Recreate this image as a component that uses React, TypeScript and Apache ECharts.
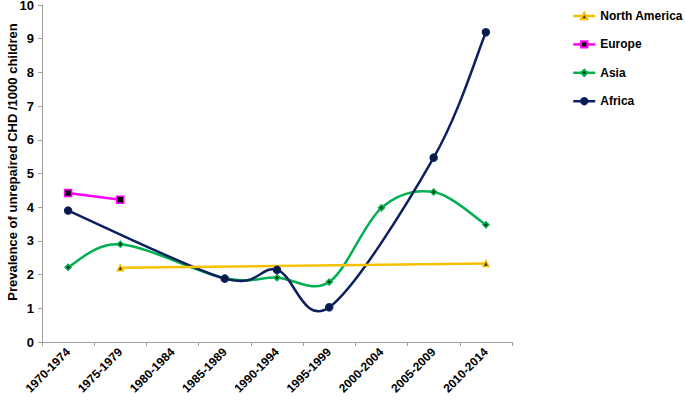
import React, { useEffect, useRef } from "react";
import * as echarts from "echarts";

const categories = ["1970-1974", "1975-1979", "1980-1984", "1985-1989", "1990-1994", "1995-1999", "2000-2004", "2005-2009", "2010-2014"];
const northAmerica = [null, 2.2, null, null, null, null, null, null, 2.33];
const europe = [4.42, 4.22, null, null, null, null, null, null, null];
const asia = [2.22, 2.9, null, 1.89, 1.91, 1.78, 3.98, 4.45, 3.48];
const africa = [3.9, null, null, 1.88, 2.14, 1.03, null, 5.47, 9.19];
const yTicks = [0, 10, 1];

const FONT = "Liberation Sans, Arial, sans-serif";

// Excel-style smoothed path through the points, using the axis scales (api.coord)
function smoothCurve(values: (number | null)[], color: string) {
  return (params: any, api: any) => {
    if (params.dataIndex !== 0) return null;
    const pts: number[][] = [];
    values.forEach((v, i) => {
      if (v !== null && v !== undefined) pts.push(api.coord([i, v]));
    });
    if (pts.length < 2) return null;
    let d = `M${pts[0][0]},${pts[0][1]}`;
    for (let i = 0; i < pts.length - 1; i++) {
      const p0 = pts[i - 1] || pts[i];
      const p1 = pts[i];
      const p2 = pts[i + 1];
      const p3 = pts[i + 2] || pts[i + 1];
      const c1x = p1[0] + (p2[0] - p0[0]) / 6;
      const c1y = p1[1] + (p2[1] - p0[1]) / 6;
      const c2x = p2[0] - (p3[0] - p1[0]) / 6;
      const c2y = p2[1] - (p3[1] - p1[1]) / 6;
      d += ` C${c1x},${c1y} ${c2x},${c2y} ${p2[0]},${p2[1]}`;
    }
    return {
      type: "path",
      shape: { pathData: d },
      style: { stroke: color, fill: "none", lineWidth: 2.5 },
      silent: true,
    };
  };
}

export default function App() {
  const ref = useRef<HTMLDivElement>(null);
  useEffect(() => {
    const chart = echarts.init(ref.current!, null, { renderer: "svg" });
    const mk = (name: string, data: any[], color: string, symbol: string, size: number, fill: string, hideLine: boolean, z: number) => ({
      name,
      type: "line",
      data,
      connectNulls: true,
      smooth: false,
      symbol,
      symbolSize: size,
      showSymbol: true,
      z,
      lineStyle: { color, width: 2.5, opacity: hideLine ? 0 : 1 },
      itemStyle: { color: fill, borderColor: color, borderWidth: 1.5 },
      emphasis: { disabled: true },
    });
    const curve = (name: string, values: (number | null)[], color: string, z: number) => ({
      name,
      type: "custom",
      coordinateSystem: "cartesian2d",
      data: [[0, 0]],
      z,
      silent: true,
      renderItem: smoothCurve(values, color),
    });
    chart.setOption({
      animation: false,
      backgroundColor: "#ffffff",
      textStyle: { fontFamily: FONT },
      grid: { left: 42, right: 173, top: 5, bottom: 61, containLabel: false, outerBoundsMode: "none" },
      legend: {
        orient: "vertical",
        left: 572,
        top: 10,
        padding: 0,
        itemWidth: 22,
        itemHeight: 8,
        itemGap: 16.4,
        lineStyle: { opacity: 1, width: 2.5 },
        textStyle: { fontFamily: FONT, fontWeight: "bold", fontSize: 12, color: "#000" },
        data: ["North America", "Europe", "Asia", "Africa"],
      },
      graphic: [
        {
          type: "text",
          x: 12,
          y: 162,
          rotation: Math.PI / 2,
          style: {
            text: "Prevalence of unrepaired CHD /1000 children",
            font: `bold 13px ${FONT}`,
            fill: "#000",
            align: "center",
            verticalAlign: "middle",
          },
        },
      ],
      xAxis: {
        type: "category",
        data: categories,
        boundaryGap: true,
        axisLine: { lineStyle: { color: "#a0a0a0", width: 1 } },
        axisTick: { show: true, alignWithLabel: false, length: 4, lineStyle: { color: "#a0a0a0" } },
        axisLabel: { rotate: 45, interval: 0, fontFamily: FONT, fontWeight: "bold", fontSize: 12, color: "#000", margin: 8 },
        splitLine: { show: false },
      },
      yAxis: {
        type: "value",
        min: yTicks[0],
        max: yTicks[1],
        interval: yTicks[2],
        axisLine: { show: true, lineStyle: { color: "#a0a0a0", width: 1 } },
        axisTick: { show: true, length: 4, lineStyle: { color: "#a0a0a0" } },
        axisLabel: { fontFamily: FONT, fontWeight: "bold", fontSize: 13, color: "#000", margin: 8 },
        splitLine: { show: false },
      },
      series: [
        mk("North America", northAmerica, "#f5c000", "triangle", 6, "#3a2a00", false, 3),
        mk("Europe", europe, "#ff00ff", "rect", 7, "#000000", false, 3),
        curve("Asia curve", asia, "#00b050", 1),
        curve("Africa curve", africa, "#0a2060", 2),
        mk("Asia", asia, "#00b050", "diamond", 6, "#0a3a1a", true, 4),
        mk("Africa", africa, "#0a2060", "circle", 7, "#0a1a40", true, 4),
      ],
    });
    return () => chart.dispose();
  }, []);
  return <div ref={ref} style={{ width: 685, height: 403, position: "absolute", left: 0, top: 0 }} />;
}
